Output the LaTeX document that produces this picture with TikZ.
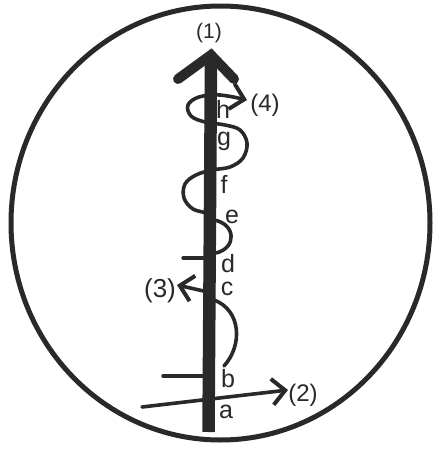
\documentclass[tikz,border=0pt]{standalone}
\usepackage{fontspec}
\setmainfont{Liberation Sans}
\usetikzlibrary{arrows.meta}
\definecolor{ink}{gray}{0.16}
\begin{document}
\begin{tikzpicture}[x=1pt,y=-1pt,
  line cap=round, line join=round,
  snake/.style={draw=ink, line width=3.6pt},
  tick/.style={draw=ink, line width=3.4pt},
  barb/.style={-{Straight Barb[length=13pt,width=26pt,line width=4pt]}},
  lbl/.style={text=ink, anchor=base, inner sep=0pt, font=\fontsize{25}{25}\selectfont},
  num/.style={text=ink, anchor=base, inner sep=0pt, font=\fontsize{24}{24}\selectfont}]
\useasboundingbox (0,0) rectangle (433,450);
\fill[white] (0,0) rectangle (433,450);
% outer circle
\draw[ink, line width=5pt] (220.5,223) ellipse [x radius=209.5, y radius=217];
% coordinates
\coordinate (shaftB) at (208.5,432);
\coordinate (shaftT) at (211,58);
\coordinate (aL) at (142,407);
\coordinate (t2) at (288,390);
\coordinate (s3) at (208,292);
\coordinate (t3) at (177,285);
\coordinate (dL) at (183,258);
\coordinate (dR) at (208,258);
\coordinate (bL) at (163,376);
\coordinate (bR) at (208,376);
% line a -> (2)
\draw[snake, barb] (aL) -- (t2);
% ticks
\draw[tick] (dL) -- (dR);
\draw[tick] (bL) -- (bR);
% arrow to (3)
\draw[snake, barb] (s3) -- (t3);
% arc c-b
\draw[snake] (214,300) .. controls (241,310) and (243,345) .. (224,366);
% arc e-d
\draw[snake] (214,220) .. controls (236,224) and (237,248) .. (216,253);
% upper snake with arrow to (4)
\draw[snake, barb] plot[smooth, tension=0.6] coordinates {
  (208,213) (193,209) (184,198) (185,184) (196,175) (212,170) (230,167)
  (243,158) (247,143) (240,130) (225,125) (205,122) (191,116) (188,105)
  (199,97) (220,95) (247,100)};
% main shaft and head
\draw[ink, line width=12.5pt, line cap=butt] (shaftB) -- (shaftT);
\draw[ink, line width=10pt, line join=miter, line cap=round] (178,79) -- (211,55) -- (234,79);
% labels
\node[text=ink, anchor=base, inner sep=0pt, font=\fontsize{21}{21}\selectfont] (l1) at (209,38) {(1)};
\node[num] (l4) at (265,111) {(4)};
\node[num, font=\fontsize{26}{26}\selectfont] (l3) at (160,297) {(3)};
\node[num] (l2) at (303,401) {(2)};
\node[lbl] (lh) at (223,118) {h};
\node[lbl] (lg) at (224,145) {g};
\node[lbl] (lf) at (224,193) {f};
\node[lbl] (le) at (232,223) {e};
\node[lbl] (ld) at (228,272) {d};
\node[lbl] (lc) at (227,295) {c};
\node[lbl] (lb) at (228,387) {b};
\node[lbl] (la) at (226,418) {a};
\end{tikzpicture}
\end{document}
